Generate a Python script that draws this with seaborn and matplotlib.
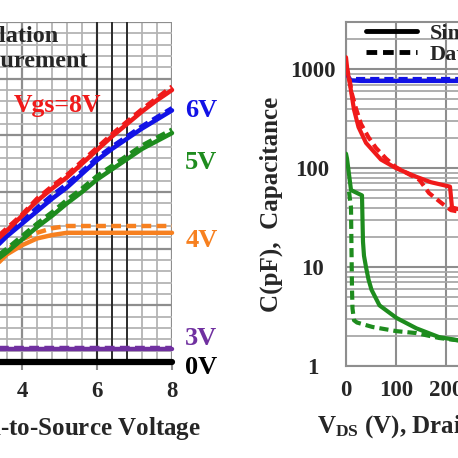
import pandas as pd
import matplotlib.pyplot as plt
import seaborn as sns
from matplotlib.ticker import MultipleLocator, LogLocator, NullFormatter
from matplotlib.lines import Line2D

# ---- left panel: output characteristics (Vgs sweep) ----
vds = [3.2, 3.6, 4.0, 4.4, 4.8, 5.2, 5.6, 6.0, 6.4, 6.8, 7.2, 7.6, 8.0]
sim_8v = [10.4, 11.6, 12.9, 14.2, 15.3, 16.3, 17.5, 18.7, 19.9, 21.0, 22.1, 23.1, 24.0]
meas_8v = [10.6, 11.8, 13.0, 14.4, 15.5, 16.5, 17.7, 18.9, 20.1, 21.2, 22.3, 23.3, 24.3]
sim_6v = [9.8, 11.1, 12.2, 13.3, 14.4, 15.4, 16.6, 17.8, 18.8, 19.7, 20.6, 21.4, 22.2]
meas_6v = [10.0, 11.3, 12.4, 13.6, 14.7, 15.7, 16.8, 18.0, 19.0, 19.9, 20.8, 21.6, 22.4]
sim_5v = [8.7, 9.7, 10.8, 11.9, 12.9, 14.0, 15.0, 16.1, 17.0, 17.9, 18.8, 19.5, 20.2]
meas_5v = [9.0, 10.0, 11.1, 12.2, 13.2, 14.3, 15.3, 16.4, 17.3, 18.2, 19.1, 19.8, 20.5]
sim_4v = [8.2, 9.5, 10.3, 10.9, 11.2, 11.4, 11.4, 11.4, 11.4, 11.4, 11.4, 11.4, 11.4]
meas_4v = [8.6, 9.9, 10.8, 11.4, 11.8, 12.0, 12.0, 12.0, 12.0, 12.0, 12.0, 12.0, 12.0]
sim_3v = [1.15] * 13
meas_3v = [1.2] * 13
sim_0v = [0.0] * 13

vgs_labels = ["6V", "5V", "4V", "3V", "0V"]
vgs_label_y = [22.2, 17.6, 10.7, 2.1, -0.5]

# ---- right panel: capacitances ----
ciss_sim_x = [0, 4, 10, 30, 100, 230]
ciss_sim = [930, 850, 770, 760, 760, 760]
ciss_meas_x = [20, 60, 120, 230]
ciss_meas = [800, 800, 800, 800]
coss_sim_x = [0, 3, 8, 16, 25, 40, 70, 100, 140, 170, 208, 212, 230]
coss_sim = [1320, 950, 700, 390, 260, 180, 122, 100, 82, 72, 65, 40, 38]
coss_meas_x = [0, 6, 12, 20, 30, 45, 60, 80, 100, 147, 166, 192, 210, 230]
coss_meas = [1100, 850, 560, 400, 280, 205, 160, 125, 102, 76, 56, 44, 37.6, 36]
crss_sim_x = [0, 2, 10, 32, 33, 34, 36, 40, 45, 51, 67, 101, 141, 186, 230]
crss_sim = [140, 125, 60, 53, 30, 18, 13, 10, 7.5, 5.9, 4.1, 3.06, 2.4, 1.96, 1.8]
crss_meas_x = [6, 10, 11, 12, 13, 16, 22, 53, 101, 141, 186, 230]
crss_meas = [58, 40, 15, 6, 3.8, 2.9, 2.75, 2.48, 2.25, 2.15, 1.92, 1.8]

red, blue, green = "#f01a1a", "#1212e6", "#1e8c1e"
orange, purple = "#f7801f", "#7030a0"
dash = (0, (2.2, 1.2))

sns.set_theme(style="white")
plt.rcParams["font.family"] = ["Liberation Serif", "DejaVu Serif"]
plt.rcParams["font.weight"] = "bold"
plt.rcParams["axes.labelweight"] = "bold"
plt.rcParams["mathtext.fontset"] = "custom"
plt.rcParams["mathtext.rm"] = "Liberation Serif:bold"
plt.rcParams["mathtext.it"] = "Liberation Serif:bold"
plt.rcParams["mathtext.bf"] = "Liberation Serif:bold"

fig = plt.figure(figsize=(4.58, 4.58), dpi=100)
W = 458.0
ax1 = fig.add_axes([-128 / W, 96 / W, 300 / W, 340 / W])
ax2 = fig.add_axes([346 / W, 92 / W, 300 / W, 344 / W])

# left panel
left_series = [
    (sim_0v, "black", "-"), (sim_3v, purple, "-"), (meas_3v, purple, dash),
    (sim_4v, orange, "-"), (meas_4v, orange, dash),
    (sim_5v, green, "-"), (meas_5v, green, dash),
    (sim_6v, blue, "-"), (meas_6v, blue, dash),
    (sim_8v, red, "-"), (meas_8v, red, dash),
]
for ys, c, ls in left_series:
    lw = 4.5 if c == "black" else 3.2
    sns.lineplot(x=vds, y=ys, ax=ax1, color=c, linestyle=ls, lw=lw, clip_on=False, zorder=3)

ax1.set_xlim(0, 8)
ax1.set_ylim(0, 30)
ax1.xaxis.set_major_locator(MultipleLocator(2))
ax1.xaxis.set_minor_locator(MultipleLocator(0.4))
ax1.yaxis.set_major_locator(MultipleLocator(5))
ax1.yaxis.set_minor_locator(MultipleLocator(1))
ax1.grid(which="minor", color="#b4b4b4", lw=1.3)
ax1.grid(which="major", color="#8e8e8e", lw=1.6)
for xv in [6.0, 6.4, 6.8]:
    ax1.axvline(xv, color="#222222", lw=1.3, zorder=1)
ax1.set_axisbelow(True)
for s in ax1.spines.values():
    s.set_visible(False)
ax1.tick_params(axis="x", which="major", length=6, color="#8e8e8e", width=1.5,
                labelsize=16.5, pad=8, bottom=True)
ax1.tick_params(axis="y", which="both", length=0, labelleft=False)
ax1.set_xticks([0, 2, 4, 6, 8])
ax1.set_xticklabels(["0", "2", "4", "6", "8"])
ax1.set_xlabel(r"$\mathrm{V_{DS}}$ (V), Drain-to-Source Voltage", fontsize=18, labelpad=9)

ax1.text(3.79, 22.6, "Vgs=8V", color=red, fontsize=18.5, va="center", ha="left")
label_colors = [blue, green, orange, purple, "black"]
for lab, yv, c in zip(vgs_labels, vgs_label_y, label_colors):
    ax1.text(8.35, yv, lab, color=c, fontsize=19, va="center", ha="left", clip_on=False)

handles = [Line2D([], [], color="black", lw=3.5),
           Line2D([], [], color="black", lw=3.5, linestyle=dash)]
ax1.legend(handles, ["Simulation", "Measurement"], loc="upper left",
           bbox_to_anchor=(4 / 300, 0.99), frameon=False, fontsize=17.5,
           handlelength=2.3, handletextpad=0.55, labelspacing=0.12,
           borderaxespad=0, borderpad=0)

# right panel
right_series = [
    (ciss_sim_x, ciss_sim, blue, "-"), (ciss_meas_x, ciss_meas, blue, dash),
    (coss_sim_x, coss_sim, red, "-"), (coss_meas_x, coss_meas, red, dash),
    (crss_sim_x, crss_sim, green, "-"), (crss_meas_x, crss_meas, green, dash),
]
for xs, ys, c, ls in right_series:
    sns.lineplot(x=xs, y=ys, ax=ax2, color=c, linestyle=ls, lw=3.0, zorder=3)

ax2.set_yscale("log")
ax2.set_xlim(0, 600)
ax2.set_ylim(1, 3000)
ax2.xaxis.set_major_locator(MultipleLocator(100))
ax2.yaxis.set_major_locator(LogLocator(base=10))
ax2.yaxis.set_minor_locator(LogLocator(base=10, subs=range(2, 10)))
ax2.yaxis.set_minor_formatter(NullFormatter())
ax2.grid(which="major", color="#8e8e8e", lw=1.5)
ax2.grid(which="minor", axis="y", color="#a8a8a8", lw=1.3)
ax2.set_axisbelow(True)
for s in ax2.spines.values():
    s.set_color("#8e8e8e")
    s.set_linewidth(1.5)
ax2.set_yticks([1, 10, 100, 1000])
ax2.set_yticklabels(["1", "10", "100", "1000"])
for lbl in ax2.get_yticklabels():
    lbl.set_ha("center")
ax2.tick_params(axis="y", which="both", length=0, labelsize=16.5, pad=24)
ax2.tick_params(axis="x", length=0, labelsize=16.5, pad=10)
ax2.set_xlabel(r"$\mathrm{V_{DS}}$ (V), Drain-to-Source Voltage", fontsize=18, labelpad=9)
ax2.set_ylabel("C(pF),  Capacitance", fontsize=18)
ax2.yaxis.set_label_coords(-63 / 300, 0.47)
ax2.legend(handles, ["Simulation", "Data"], loc="upper left",
           bbox_to_anchor=(20 / 300, 0.995), frameon=False, fontsize=16,
           handlelength=2.3, handletextpad=0.55, labelspacing=0.0,
           borderaxespad=0, borderpad=0)

fig.savefig("out.png", dpi=100)
